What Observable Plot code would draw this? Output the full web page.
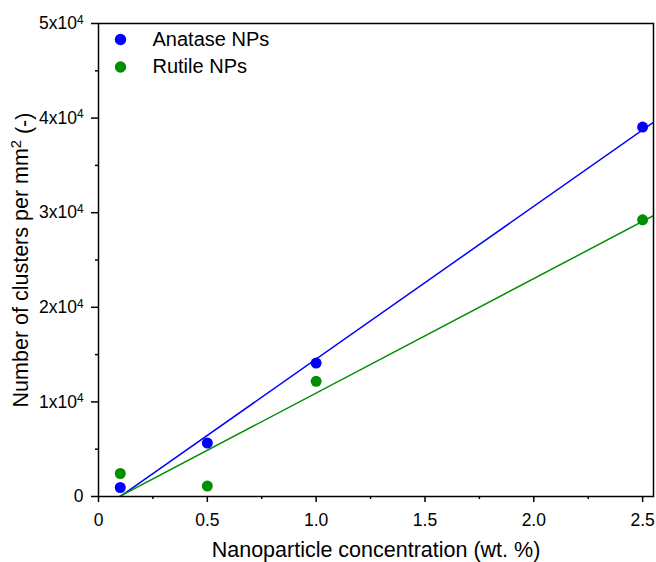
<!DOCTYPE html>
<html>
<head>
<meta charset="utf-8">
<script src="https://cdn.jsdelivr.net/npm/d3@7"></script>
<script src="https://cdn.jsdelivr.net/npm/@observablehq/plot@0.6"></script>
<style>
  html, body { margin: 0; padding: 0; background: #fff; }
  #chart { width: 656px; height: 562px; }
</style>
</head>
<body>
<div id="chart"></div>
<script>
// ---- data ----
const concentration = [0.1, 0.5, 1.0, 2.5];
const anatase = [950, 5650, 14100, 39050];
const rutile = [2430, 1100, 12170, 29250];
const seriesNames = ["Anatase NPs", "Rutile NPs"];
const seriesColors = ["#0000ff", "#008f00"];
const xTicks = [0, 0.5, 1.0, 1.5, 2.0, 2.5];
const xTickLabels = ["0", "0.5", "1.0", "1.5", "2.0", "2.5"];
const xMinorTicks = [0.25, 0.75, 1.25, 1.75, 2.25];
const yTicks = [0, 10000, 20000, 30000, 40000, 50000];
const yTickLabels = ["0", "1x10^4", "2x10^4", "3x10^4", "4x10^4", "5x10^4"];
const yMinorTicks = [5000, 15000, 25000, 35000, 45000];
const xDomain = [0, 2.55];
const yDomain = [0, 50000];
const xLabel = "Nanoparticle concentration (wt. %)";
const yLabel = "Number of clusters per mm^2 (-)";

// ---- table + least-squares fits ----
const seriesValues = [anatase, rutile];
const points = seriesValues.flatMap((vals, s) =>
  vals.map((v, i) => ({x: concentration[i], y: v, series: seriesNames[s]})));

function fit(xs, ys) {
  const mx = d3.mean(xs), my = d3.mean(ys);
  const sxy = d3.sum(xs, (x, i) => (x - mx) * (ys[i] - my));
  const sxx = d3.sum(xs, x => (x - mx) ** 2);
  const b = sxy / sxx;
  return {a: my - b * mx, b};
}
const fitLines = seriesValues.flatMap((vals, s) => {
  const {a, b} = fit(concentration, vals);
  return xDomain.map(x => ({x, y: a + b * x, series: seriesNames[s]}));
});

const colorOf = name => seriesColors[seriesNames.indexOf(name)];

const legendMarks = seriesNames.flatMap((name, i) => [
  Plot.dot([name], {frameAnchor: "top-left", dx: 22, dy: 16 + i * 27.5, r: 5.7, fill: seriesColors[i], stroke: "none"}),
  Plot.text([name], {frameAnchor: "top-left", dx: 54, dy: 16 + i * 27.5, text: d => d, textAnchor: "start", lineAnchor: "middle", fontSize: 20, fill: "#000"})
]);

const plot = Plot.plot({
  width: 656,
  height: 562,
  marginLeft: 98,
  marginRight: 3,
  marginTop: 23,
  marginBottom: 66,
  style: {fontFamily: "'Liberation Sans', Arial, sans-serif", fontSize: "17px", color: "#000", background: "#fff", overflow: "visible"},
  x: {domain: xDomain},
  y: {domain: yDomain},
  marks: [
    Plot.line(fitLines, {x: "x", y: "y", z: "series", stroke: d => colorOf(d.series), strokeWidth: 1.5, clip: true}),
    Plot.dot(points, {x: "x", y: "y", fill: d => colorOf(d.series), r: 5.5, stroke: "none"}),
    Plot.frame({stroke: "#000", strokeWidth: 1.5}),
    Plot.axisX({ticks: xTicks, tickSize: 6, tickPadding: 11, strokeWidth: 1.5, fontSize: 17.5,
      tickFormat: d => xTickLabels[xTicks.indexOf(d)],
      label: xLabel, labelAnchor: "center", labelArrow: "none", labelOffset: 60}),
    Plot.axisX({ticks: xMinorTicks, tickSize: 3, strokeWidth: 1.5, tickFormat: () => "", label: null}),
    Plot.axisY({ticks: yTicks, tickSize: 7, tickPadding: 8, strokeWidth: 1.5, fontSize: 17.5,
      tickFormat: d => yTickLabels[yTicks.indexOf(d)],
      label: yLabel, labelAnchor: "center", labelArrow: "none", labelOffset: 86}),
    Plot.axisY({ticks: yMinorTicks, tickSize: 3, strokeWidth: 1.5, tickFormat: () => "", label: null}),
    ...legendMarks
  ]
});
document.getElementById("chart").append(plot);

// superscripts: "a^b rest"
function supify(node) {
  const t = d3.select(node);
  const s = t.text();
  if (!s.includes("^")) return;
  const m = s.match(/^(.*?)\^(\S)(.*)$/);
  t.text(null);
  t.append("tspan").text(m[1]);
  t.append("tspan").attr("dy", "-0.45em").attr("font-size", "0.68em").text(m[2]);
  if (m[3]) t.append("tspan").attr("dy", "0.45em").text(m[3]);
}
const svg = d3.select(plot);
svg.selectAll('g[aria-label="y-axis tick label"] text').each(function() { supify(this); });
svg.selectAll('g[aria-label="y-axis label"] text, g[aria-label="x-axis label"] text')
  .attr("font-size", 21.5).style("font-size", "21.5px").each(function() { supify(this); });
</script>
</body>
</html>
